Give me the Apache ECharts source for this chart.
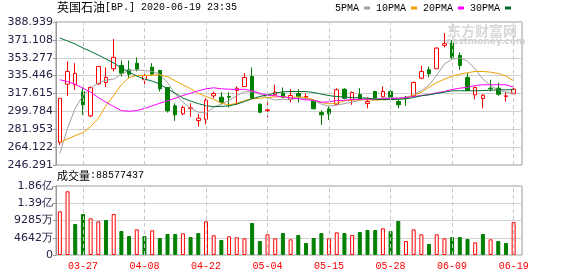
<!DOCTYPE html>
<html>
<head>
<meta charset="utf-8">
<script src="https://cdn.jsdelivr.net/npm/echarts@6/dist/echarts.min.js"></script>
<style>html,body{margin:0;padding:0;background:#fff}#c{width:578px;height:276px}</style>
</head>
<body>
<div id="c"></div>
<script>
const dates = ['03-24','03-25','03-26','03-27','03-30','03-31','04-01','04-02','04-03','04-06',
'04-07','04-08','04-09','04-14','04-15','04-16','04-17','04-20','04-21','04-22',
'04-23','04-24','04-27','04-28','04-29','04-30','05-01','05-04','05-05','05-06',
'05-07','05-11','05-12','05-13','05-14','05-15','05-18','05-19','05-20','05-21',
'05-22','05-26','05-27','05-28','05-29','06-01','06-02','06-03','06-04','06-05',
'06-08','06-09','06-10','06-11','06-12','06-15','06-16','06-17','06-18','06-19'];
const xTickLabels = ['03-27','04-08','04-22','05-04','05-15','05-28','06-09','06-19'];

const openP = [268.9,326.9,326.3,319.3,295.3,327.3,328.6,342.3,345.6,341.3,
347.9,331.3,343.9,340.6,323.6,305.3,297.3,302.6,290.6,291.9,
315.3,313.9,314.6,320.6,324.6,334.6,306.9,300.6,316.3,317.9,
311.9,317.6,313.6,310.3,298.6,302.3,306.9,321.9,311.3,316.6,
307.6,319.6,314.3,319.6,309.6,313.9,315.3,332.9,341.3,342.3,
365.6,367.9,355.6,333.6,316.3,312.6,322.9,322.9,314.6,317.3];
const closeP = [312.9,339.6,337.6,306.3,323.6,344.6,333.6,353.6,337.9,336.9,
341.9,335.6,336.9,322.3,300.3,296.3,303.6,303.3,292.9,310.9,
317.6,308.9,313.9,322.9,333.6,312.9,298.9,301.3,318.9,313.9,
315.6,314.3,314.6,302.3,296.3,297.3,321.3,312.9,318.6,311.9,
309.6,312.9,319.6,313.9,306.3,312.9,328.6,339.6,337.3,362.9,
367.3,353.6,345.6,320.6,323.6,315.9,322.3,316.9,315.3,321.9];
const lowP = [266.3,315.3,321.3,296.3,294.0,326.3,323.9,339.6,334.6,332.9,
339.6,326.3,335.3,319.6,298.6,290.3,296.3,294.3,284.6,286.9,
312.9,306.9,303.6,306.3,323.9,312.9,297.9,293.6,315.3,312.9,
308.6,308.6,311.3,302.3,286.3,291.3,306.3,311.9,306.3,311.3,
302.9,312.3,312.9,311.3,302.9,305.3,314.6,331.9,333.9,342.3,
363.6,351.9,341.3,320.6,311.9,302.9,319.6,315.3,309.6,316.9];
const highP = [312.9,349.6,347.9,323.6,324.6,344.6,343.6,371.9,350.6,350.6,
353.6,337.9,347.9,341.3,323.6,307.9,305.6,307.9,297.3,312.9,
319.6,318.9,318.9,324.6,337.9,343.6,307.9,308.9,326.3,323.6,
321.9,321.9,317.9,311.9,300.9,304.6,322.9,322.9,319.6,322.9,
313.9,320.3,324.6,321.3,311.3,315.3,329.6,345.3,344.6,363.6,
377.9,370.9,358.6,337.9,324.6,316.9,331.3,328.6,318.9,326.3];

const ma5 = [257.9,282.9,302.9,315.6,323,328,331,332,337,340.6,
341,340.6,339.6,336.9,328.5,317,309,302.9,299,298,
304,307,310.6,315.6,319.3,319.5,317,313.5,311,312,
311.5,313,313,310.5,307,305,306,307.5,309,311,
312.5,312,313,313.6,313,313.2,317,320.5,326,336,
347,352,353,350,342,332,325.5,321,319,318.6];
const ma10 = [268.9,272.3,275.6,278.6,284.6,292.9,305.6,315.6,326.3,333.6,
335.6,335.6,335.9,336.3,334.3,330.3,326.3,322.3,317.9,314.6,
311.9,307.9,306.3,307.9,310.6,312.3,312.9,313.6,314.3,314.3,
313.6,314.3,313.6,311.3,308.6,307.3,307.9,310.3,310.9,311.3,
311.3,310.9,311.3,311.6,312.3,313.6,315.6,318.9,323.9,328.6,
331.9,334.9,336.9,338.3,339.6,339.6,338.9,337.6,334.9,330.3];
const ma20 = [331.3,329.6,326.9,322.9,318.9,313.6,308.9,304.6,300.6,299.9,
300.6,302.6,305.3,307.9,310.3,312.9,315.6,317.9,320.3,322.3,
323.3,322.3,321.9,321.6,321.9,320.3,317.9,315.9,315.3,314.3,
313.3,312.3,311.3,310.9,308.9,309.3,310.6,310.9,311.6,311.9,
311.9,311.9,312.3,312.6,312.9,313.6,314.6,315.6,316.6,318.3,
319.6,321.6,322.9,323.9,325.6,326.3,326.3,326.3,326.3,324];
const ma30 = [373,370,367,363,359.6,356,352,348,343,339,
335,332,330,327,322,318,313,310,307.5,305.5,
304.5,304.8,305.3,307,309.6,312.5,314.6,316.3,318,319.3,
319.6,319.6,319.6,318.6,317,315.5,314.6,314,313.5,313.2,
313,311.8,311.6,311.6,311.8,312.3,313.6,315.3,316.3,317.6,
318.9,320.3,320.3,320.3,320.3,320.5,320.9,321.3,321.3,321.5];

const volumes = [117.6e6,171.4e6,83.4e6,110.3e6,98.7e6,90.6e6,94.2e6,110.3e6,64.6e6,51.1e6,
69.1e6,51.1e6,66.4e6,45.7e6,56.5e6,56.5e6,58.3e6,48.4e6,59.2e6,90.6e6,
53.0e6,40.4e6,50.3e6,47.6e6,44.9e6,86.1e6,37.7e6,55.7e6,44.9e6,59.2e6,
42.2e6,53.8e6,32.3e6,45.7e6,59.2e6,44.9e6,61.0e6,59.2e6,53.8e6,61.9e6,
67.3e6,67.3e6,71.8e6,64.6e6,91.5e6,37.7e6,69.1e6,55.6e6,29.6e6,55.6e6,
44.9e6,48.4e6,48.4e6,43.1e6,34.1e6,56.5e6,42.2e6,37.7e6,32.3e6,88577437];
// 1 = red (up vs previous close), 0 = green
const volUp = [1,1,0,0,1,1,0,1,0,0,
1,0,1,0,0,0,1,0,0,1,
1,0,1,1,1,0,0,1,1,0,
1,0,0,0,0,1,1,0,1,0,
0,0,1,0,0,1,1,1,0,1,
1,0,0,0,1,0,1,0,0,1];

const priceTicks = {min: 246.291, max: 388.939, step: 17.831};
const volTicks = {min: 0, max: 185700000, step: 46425000};

const RED = '#ff0000', GREEN = '#008000';
const chart = echarts.init(document.getElementById('c'), null, {renderer: 'canvas'});

const candleData = dates.map((d, i) => [openP[i], closeP[i], lowP[i], highP[i]]);
const volData = volumes.map((v, i) => volUp[i]
  ? {value: v, itemStyle: {color: '#ffffff', borderColor: RED, borderWidth: 1}}
  : {value: v, itemStyle: {color: GREEN, borderColor: GREEN, borderWidth: 1}});
const nulls = dates.map(() => null);
const vLines = {
  silent: true, symbol: ['none', 'none'], animation: false,
  label: {show: false},
  lineStyle: {type: [4, 3], color: '#c8c8c8', width: 1},
  data: xTickLabels.map(d => ({xAxis: d}))
};
const yLabelFont = {fontFamily: 'DejaVu Sans', fontSize: 11, color: '#222244'};

function volFmt(v) {
  if (v === 0) return '0';
  if (v >= 1e8) return (v / 1e8).toFixed(2) + '亿';
  return Math.floor(v / 1e4) + '万';
}

const maColors = ['#a0a0a0', '#f0a000', '#ff00ff', '#006f30'];
const maNames = ['5PMA', '10PMA', '20PMA', '30PMA'];
const maData = [ma5, ma10, ma20, ma30];

const option = {
  animation: false,
  backgroundColor: '#ffffff',
  legend: {
    data: maNames.map(n => ({name: n, icon: 'rect'})),
    right: 67, top: 3, padding: 0, itemWidth: 6, itemHeight: 3, itemGap: 6, align: 'right',
    textStyle: {fontFamily: 'Liberation Mono', fontSize: 10, color: '#000'}
  },
  grid: [
    {left: 56, top: 22, width: 466, height: 143, show: true, borderColor: '#999', borderWidth: 1},
    {left: 56, top: 22, width: 461.5, height: 143},
    {left: 56, top: 186, width: 466, height: 69, show: true, borderColor: '#999', borderWidth: 1},
    {left: 56, top: 186, width: 461.5, height: 69}
  ],
  xAxis: [
    {type: 'value', gridIndex: 0, min: 0, max: 1, show: false},
    {type: 'category', gridIndex: 1, data: dates, boundaryGap: true, show: false},
    {type: 'value', gridIndex: 2, min: 0, max: 1, show: false},
    {type: 'category', gridIndex: 3, data: dates, boundaryGap: true,
      axisLine: {show: false}, axisTick: {show: false}, splitLine: {show: false},
      axisLabel: {interval: (i, v) => xTickLabels.indexOf(v) >= 0, color: RED,
        fontFamily: 'Liberation Mono', fontSize: 10, margin: 6}}
  ],
  yAxis: [
    {type: 'value', gridIndex: 0, min: priceTicks.min, max: priceTicks.max, interval: priceTicks.step,
      axisLine: {show: true, lineStyle: {color: '#999'}},
      axisTick: {show: true, length: 3, lineStyle: {color: '#999'}},
      axisLabel: Object.assign({margin: 3, formatter: v => v.toFixed(3)}, yLabelFont),
      splitLine: {show: true, lineStyle: {color: '#d0d0d0'}}},
    {type: 'value', gridIndex: 1, min: priceTicks.min, max: priceTicks.max, show: false},
    {type: 'value', gridIndex: 2, min: volTicks.min, max: volTicks.max, interval: volTicks.step,
      axisLine: {show: true, lineStyle: {color: '#999'}},
      axisTick: {show: true, length: 3, lineStyle: {color: '#999'}},
      axisLabel: Object.assign({margin: 3, formatter: volFmt}, yLabelFont),
      splitLine: {show: true, lineStyle: {color: '#d0d0d0'}}},
    {type: 'value', gridIndex: 3, min: volTicks.min, max: volTicks.max, show: false}
  ],
  series: [
    {type: 'line', xAxisIndex: 1, yAxisIndex: 1, data: nulls, z: 1, symbol: 'none', markLine: vLines},
    {type: 'candlestick', name: 'K', xAxisIndex: 1, yAxisIndex: 1, data: candleData, barWidth: 4, z: 3,
      itemStyle: {color: '#ffffff', color0: GREEN, borderColor: RED, borderColor0: GREEN, borderWidth: 1}},
    ...maData.map((d, i) => ({
      type: 'line', name: maNames[i], xAxisIndex: 1, yAxisIndex: 1, data: d, z: 4,
      symbol: 'none', showSymbol: false, color: maColors[i],
      lineStyle: {width: 1, color: maColors[i]}, itemStyle: {color: maColors[i]}
    })),
    {type: 'line', xAxisIndex: 3, yAxisIndex: 3, data: nulls, z: 1, symbol: 'none', markLine: vLines},
    {type: 'bar', name: 'VOL', xAxisIndex: 3, yAxisIndex: 3, data: volData, barWidth: 4, z: 3}
  ],
  graphic: [
    {type: 'text', left: 447, top: 24, z: 0, silent: true,
      style: {text: '东方财富网', fontFamily: 'Noto Sans CJK SC', fontSize: 14, fontWeight: 'bold', fill: '#d8d8d8'}},
    {type: 'text', left: 446, top: 37, z: 0, silent: true,
      style: {text: 'eastmoney.com', fontFamily: 'DejaVu Sans', fontSize: 9, fontWeight: 'bold', fill: '#d0d0d0'}},
    {type: 'text', left: 57, top: 1, silent: true,
      style: {text: '{c|英国石油}{a|[BP.] 2020-06-19 23:35}',
        rich: {c: {fontFamily: 'Noto Sans CJK SC', fontSize: 12, fill: '#000'},
               a: {fontFamily: 'Liberation Mono', fontSize: 10, fill: '#000'}}}},
    {type: 'text', left: 57, top: 170, silent: true,
      style: {text: '{c|成交量}{a|:' + volumes[volumes.length - 1] + '}',
        rich: {c: {fontFamily: 'Noto Sans CJK SC', fontSize: 11, fill: '#000'},
               a: {fontFamily: 'Liberation Mono', fontSize: 10, fill: '#000'}}}}
  ]
};
chart.setOption(option);
</script>
</body>
</html>
